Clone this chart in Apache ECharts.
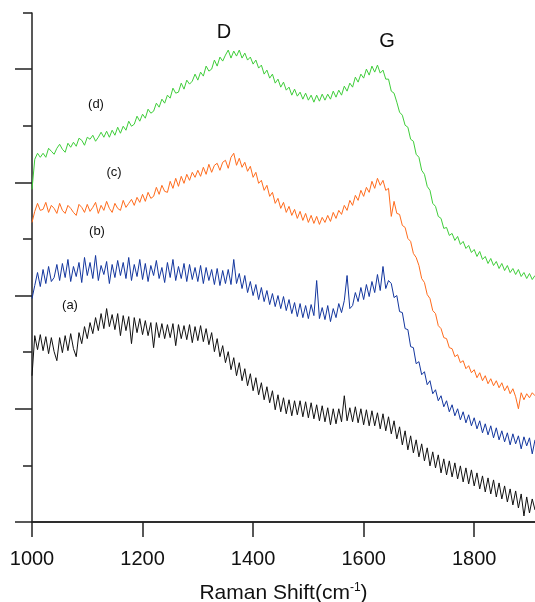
<!DOCTYPE html>
<html>
<head>
    <meta http-equiv="Content-Type" content="text/html; charset=utf-8"/>
    <title>Raman</title>
    <script src="https://cdn.jsdelivr.net/npm/echarts@6/dist/echarts.min.js"></script>
    <style>
        html, body { margin: 0; padding: 0; background: #fff; }
    </style>
</head>
<body>
<div id="main" style="width: 535px;height:602px;"></div>
<script type="text/javascript">
    // sampling grid: Raman shift 1000..1910 cm-1, every 5 cm-1
    var ramanShift = [];
    for (var s = 1000; s <= 1910; s += 5) {
        ramanShift.push(s);
    }
    // intensities (a.u., offset spectra), one row = 50 cm-1
    var specA = [
        146, 186, 172, 187, 171, 185, 168, 184, 170, 161,
        184, 169, 186, 171, 188, 173, 165, 189, 178, 195,
        183, 199, 188, 204, 191, 208, 193, 213, 195, 207,
        192, 208, 186, 206, 191, 205, 178, 204, 189, 203,
        187, 201, 186, 199, 174, 199, 184, 198, 183, 197,
        184, 198, 176, 197, 183, 196, 182, 197, 179, 195,
        181, 196, 180, 193, 177, 189, 170, 183, 165, 176,
        159, 170, 152, 164, 146, 159, 141, 153, 136, 148,
        131, 144, 127, 139, 122, 135, 119, 131, 112, 127,
        110, 124, 108, 122, 106, 121, 107, 121, 105, 120,
        104, 119, 103, 117, 101, 116, 100, 114, 97, 113,
        98, 113, 100, 126, 101, 114, 100, 115, 99, 113,
        97, 112, 96, 111, 96, 109, 93, 108, 91, 105,
        88, 101, 83, 95, 77, 91, 72, 86, 69, 82,
        65, 78, 61, 74, 56, 70, 54, 67, 49, 63,
        47, 61, 45, 59, 43, 56, 40, 54, 38, 52,
        36, 49, 33, 46, 30, 44, 28, 42, 25, 39,
        23, 36, 20, 33, 17, 31, 14, 28, 6, 25,
        9, 23, 12
    ];
    var specB = [
        223, 236, 249, 235, 252, 238, 255, 240, 244, 257,
        241, 258, 244, 262, 240, 255, 245, 259, 239, 264,
        246, 259, 243, 266, 241, 256, 247, 260, 238, 257,
        244, 261, 246, 259, 243, 264, 241, 257, 245, 262,
        242, 258, 240, 256, 246, 261, 243, 254, 239, 259,
        244, 262, 241, 255, 243, 258, 240, 257, 242, 254,
        240, 256, 238, 254, 241, 252, 237, 253, 236, 251,
        238, 252, 237, 262, 238, 248, 233, 246, 229, 240,
        226, 237, 222, 234, 220, 231, 217, 228, 215, 226,
        213, 225, 211, 222, 208, 219, 205, 218, 204, 216,
        203, 217, 206, 241, 203, 214, 202, 216, 200, 213,
        204, 218, 209, 221, 246, 213, 216, 229, 220, 234,
        222, 237, 225, 240, 229, 247, 231, 255, 233, 241,
        238, 224, 226, 210, 209, 193, 192, 175, 174, 158,
        160, 147, 150, 137, 141, 128, 132, 121, 126, 115,
        121, 110, 117, 106, 113, 102, 110, 99, 107, 96,
        104, 93, 101, 89, 98, 87, 96, 84, 94, 82,
        91, 80, 89, 77, 88, 78, 86, 73, 85, 76,
        84, 68, 82
    ];
    var specC = [
        299, 310, 318, 311, 312, 319, 309, 316, 313, 308,
        318, 311, 308, 316, 313, 309, 306, 317, 314, 309,
        317, 310, 314, 319, 308, 316, 311, 320, 313, 309,
        318, 313, 311, 321, 314, 318, 322, 316, 324, 319,
        327, 320, 329, 323, 325, 334, 327, 336, 330, 329,
        340, 333, 343, 335, 345, 338, 347, 341, 349, 344,
        351, 345, 354, 347, 357, 349, 356, 358, 351, 359,
        361, 353, 364, 368, 356, 363, 354, 359, 350, 355,
        344, 349, 338, 341, 331, 336, 325, 329, 318, 323,
        313, 319, 309, 315, 306, 312, 303, 310, 301, 308,
        299, 306, 298, 305, 297, 304, 299, 306, 300, 309,
        303, 311, 307, 316, 311, 321, 316, 326, 321, 331,
        325, 334, 329, 340, 333, 343, 336, 341, 331, 333,
        305, 320, 308, 307, 296, 294, 283, 280, 268, 264,
        256, 243, 239, 227, 223, 211, 208, 196, 193, 184,
        183, 174, 173, 165, 167, 159, 161, 153, 156, 149,
        152, 144, 149, 141, 146, 138, 143, 136, 141, 134,
        139, 131, 136, 128, 133, 125, 113, 129, 122, 128,
        124, 129, 126
    ];
    var specD = [
        332, 362, 368, 364, 368, 364, 373, 370, 367, 373,
        377, 372, 369, 378, 374, 379, 375, 383, 381, 376,
        384, 382, 386, 380, 384, 389, 384, 390, 384, 391,
        386, 394, 388, 395, 391, 400, 395, 397, 405, 400,
        407, 403, 412, 408, 410, 418, 414, 422, 418, 426,
        423, 433, 428, 429, 438, 432, 441, 437, 440, 447,
        441, 449, 445, 455, 450, 452, 461, 455, 464, 460,
        466, 471, 463, 470, 465, 471, 463, 468, 461, 464,
        457, 461, 453, 456, 447, 451, 443, 447, 438, 442,
        434, 439, 431, 434, 426, 432, 425, 429, 422, 428,
        421, 426, 419, 426, 420, 427, 421, 427, 422, 430,
        424, 431, 426, 435, 430, 438, 434, 444, 439, 447,
        443, 452, 446, 455, 449, 456, 448, 451, 442, 442,
        430, 428, 419, 409, 406, 396, 394, 382, 380, 367,
        364, 351, 347, 335, 331, 318, 315, 305, 303, 293,
        294, 286, 288, 281, 285, 277, 280, 273, 276, 269,
        272, 265, 270, 262, 265, 258, 263, 256, 260, 253,
        258, 251, 256, 249, 253, 247, 252, 245, 249, 243,
        248, 242, 246
    ];
    var xTicks = [1000, 1200, 1400, 1600, 1800];
    var yMajor = [0, 113, 226, 339, 452];
    var yMinor = [56.5, 169.5, 282.5, 395.5, 508];

    function pairs(ys) {
        var out = [];
        for (var i = 0; i < ramanShift.length; i++) {
            out.push([ramanShift[i], ys[i]]);
        }
        return out;
    }

    var axisColor = '#222';
    var font = 'Liberation Sans, Arial, Helvetica, sans-serif';
    var myChart = echarts.init(document.getElementById('main'));

    myChart.setOption({
        animation: false,
        grid: {left: 32, right: 0, top: 13, bottom: 80, containLabel: false, outerBoundsMode: 'none'},
        xAxis: [{
            type: 'value',
            min: 1000,
            max: 1910,
            position: 'bottom',
            name: 'Raman Shift(cm{sup|-1})',
            nameLocation: 'middle',
            nameGap: 60,
            nameTextStyle: {
                fontFamily: font, fontSize: 21, color: '#111',
                rich: {sup: {fontFamily: font, fontSize: 12, color: '#111', padding: [0, 0, 10, 0]}}
            },
            axisLine: {show: true, lineStyle: {color: axisColor, width: 1.5}},
            axisTick: {show: true, inside: false, length: 15, customValues: xTicks,
                lineStyle: {color: axisColor, width: 1.5}},
            axisLabel: {
                customValues: xTicks, margin: 27, fontFamily: font, fontSize: 20, color: '#111',
                formatter: function (v) { return String(v); }
            },
            splitLine: {show: false}
        }, {
            type: 'value',
            min: 1000,
            max: 1910,
            position: 'top',
            axisLine: {show: true, lineStyle: {color: axisColor, width: 1.5}},
            axisTick: {show: false},
            axisLabel: {show: false},
            splitLine: {show: false}
        }],
        yAxis: [{
            type: 'value',
            min: 0,
            max: 508,
            position: 'left',
            axisLine: {show: true, onZero: false, lineStyle: {color: axisColor, width: 1.5}},
            axisTick: {show: true, length: 17, customValues: yMajor, lineStyle: {color: axisColor, width: 1.5}},
            axisLabel: {show: false},
            splitLine: {show: false}
        }, {
            type: 'value',
            min: 0,
            max: 508,
            position: 'left',
            offset: 0,
            axisLine: {show: false},
            axisTick: {show: true, length: 9, customValues: yMinor, lineStyle: {color: axisColor, width: 1.5}},
            axisLabel: {show: false},
            splitLine: {show: false}
        }],
        series: [
            {name: '(a)', type: 'line', showSymbol: false, data: pairs(specA),
                lineStyle: {color: '#111111', width: 1}},
            {name: '(b)', type: 'line', showSymbol: false, data: pairs(specB),
                lineStyle: {color: '#13369e', width: 1}},
            {name: '(c)', type: 'line', showSymbol: false, data: pairs(specC),
                lineStyle: {color: '#ff6b1c', width: 1}},
            {name: '(d)', type: 'line', showSymbol: false, data: pairs(specD),
                lineStyle: {color: '#3fcd3a', width: 1}}
        ],
        graphic: [
            {type: 'text', x: 224, y: 32, style: {text: 'D', font: '20px ' + font, fill: '#111', align: 'center', verticalAlign: 'middle'}},
            {type: 'text', x: 387, y: 41, style: {text: 'G', font: '20px ' + font, fill: '#111', align: 'center', verticalAlign: 'middle'}},
            {type: 'text', x: 96, y: 104, style: {text: '(d)', font: '13px ' + font, fill: '#111', align: 'center', verticalAlign: 'middle'}},
            {type: 'text', x: 114, y: 172, style: {text: '(c)', font: '13px ' + font, fill: '#111', align: 'center', verticalAlign: 'middle'}},
            {type: 'text', x: 97, y: 231, style: {text: '(b)', font: '13px ' + font, fill: '#111', align: 'center', verticalAlign: 'middle'}},
            {type: 'text', x: 70, y: 305, style: {text: '(a)', font: '13px ' + font, fill: '#111', align: 'center', verticalAlign: 'middle'}}
        ]
    });
</script>
</body>
</html>
